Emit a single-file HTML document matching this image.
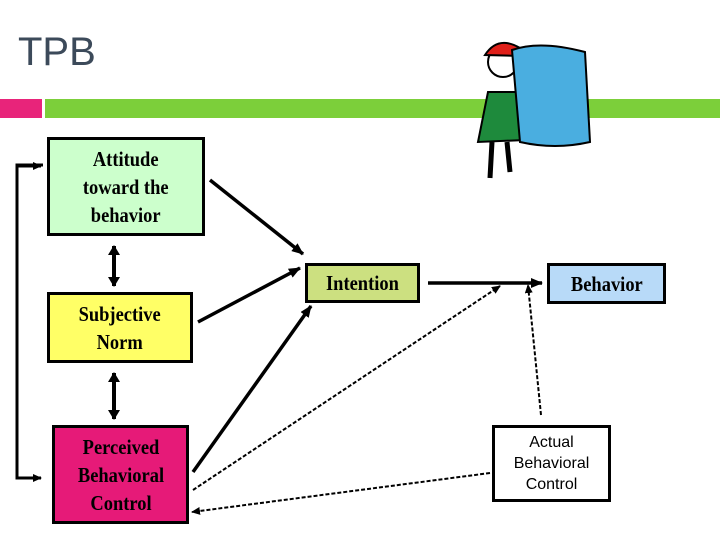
<!DOCTYPE html>
<html><head><style>
body{margin:0;width:720px;height:540px;background:#fff;position:relative;overflow:hidden;font-family:"Liberation Serif",serif}
.b{position:absolute;box-sizing:border-box;border:3px solid #000;display:flex;align-items:center;justify-content:center;text-align:center;font-size:21px;font-weight:bold;line-height:28px;color:#000}
.b span{display:inline-block;transform:scaleX(0.88)}
</style></head><body>
<div style="position:absolute;left:18px;top:30px;font:40px 'Liberation Sans',sans-serif;color:#3c4a5a">TPB</div>
<div style="position:absolute;left:0;top:99px;width:42px;height:19px;background:#e8247a"></div>
<div style="position:absolute;left:45px;top:99px;width:675px;height:19px;background:#7ccf3a"></div>
<svg width="720" height="540" style="position:absolute;left:0;top:0">
<defs>
<marker id="s" markerWidth="12" markerHeight="10" refX="11" refY="5" orient="auto" markerUnits="userSpaceOnUse"><path d="M0,0L12,5L0,10z"/></marker>
<marker id="d" markerWidth="10" markerHeight="12" refX="9" refY="6" orient="auto-start-reverse" markerUnits="userSpaceOnUse"><path d="M0,0L10,6L0,12z"/></marker>
<marker id="t" markerWidth="9" markerHeight="8" refX="8" refY="4" orient="auto" markerUnits="userSpaceOnUse"><path d="M0,0L9,4L0,8z"/></marker>
</defs>
<g>
<path d="M488 92 L520 92 L525 140 L478 142 Z" fill="#1e8a3c" stroke="#000" stroke-width="2"/>
<circle cx="503" cy="62" r="15" fill="#fff" stroke="#000" stroke-width="2"/>
<path d="M485 55 Q498 35 520 48 L522 56 Z" fill="#e0201a" stroke="#000" stroke-width="2"/>
<path d="M512 50 Q540 40 585 52 L590 142 Q555 150 520 142 Z" fill="#4aaee0" stroke="#000" stroke-width="2"/>
<path d="M492 142 L490 178 M507 142 L510 172" stroke="#000" stroke-width="5"/>
</g>
<path d="M43 165 H17 V478 H41" fill="none" stroke="#000" stroke-width="3" marker-end="url(#t)"/>
<path d="M17 166 H41" stroke="#000" stroke-width="3" marker-end="url(#t)"/>
<path d="M114 246 V286" stroke="#000" stroke-width="4" marker-start="url(#d)" marker-end="url(#d)"/>
<path d="M114 373 V419" stroke="#000" stroke-width="4" marker-start="url(#d)" marker-end="url(#d)"/>
<g stroke="#000" stroke-width="3.5" fill="none">
<path d="M210 180 L303 254" marker-end="url(#s)"/>
<path d="M198 322 L300 268" marker-end="url(#s)"/>
<path d="M193 472 L311 306" marker-end="url(#s)"/>
<path d="M428 283 L542 283" marker-end="url(#s)"/>
</g>
<g stroke="#000" stroke-width="2" fill="none" stroke-dasharray="4,2">
<path d="M193 490 L500 286" marker-end="url(#t)"/>
<path d="M541 415 L528 285" marker-end="url(#t)"/>
<path d="M490 473 L192 512" marker-end="url(#t)"/>
</g>
</svg>
<div class="b" style="left:47px;top:137px;width:158px;height:99px;background:#ccffcc"><span>Attitude<br>toward the<br>behavior</span></div>
<div class="b" style="left:47px;top:292px;width:146px;height:71px;background:#ffff66"><span>Subjective<br>Norm</span></div>
<div class="b" style="left:52px;top:425px;width:137px;height:99px;background:#e61a78"><span>Perceived<br>Behavioral<br>Control</span></div>
<div class="b" style="left:305px;top:263px;width:115px;height:40px;background:#cce080"><span>Intention</span></div>
<div class="b" style="left:547px;top:263px;width:119px;height:41px;background:#b8daf8"><span>Behavior</span></div>
<div class="b" style="left:492px;top:425px;width:119px;height:77px;background:#fff;font:16px/21px 'Liberation Sans',sans-serif">Actual<br>Behavioral<br>Control</div>
</body></html>
